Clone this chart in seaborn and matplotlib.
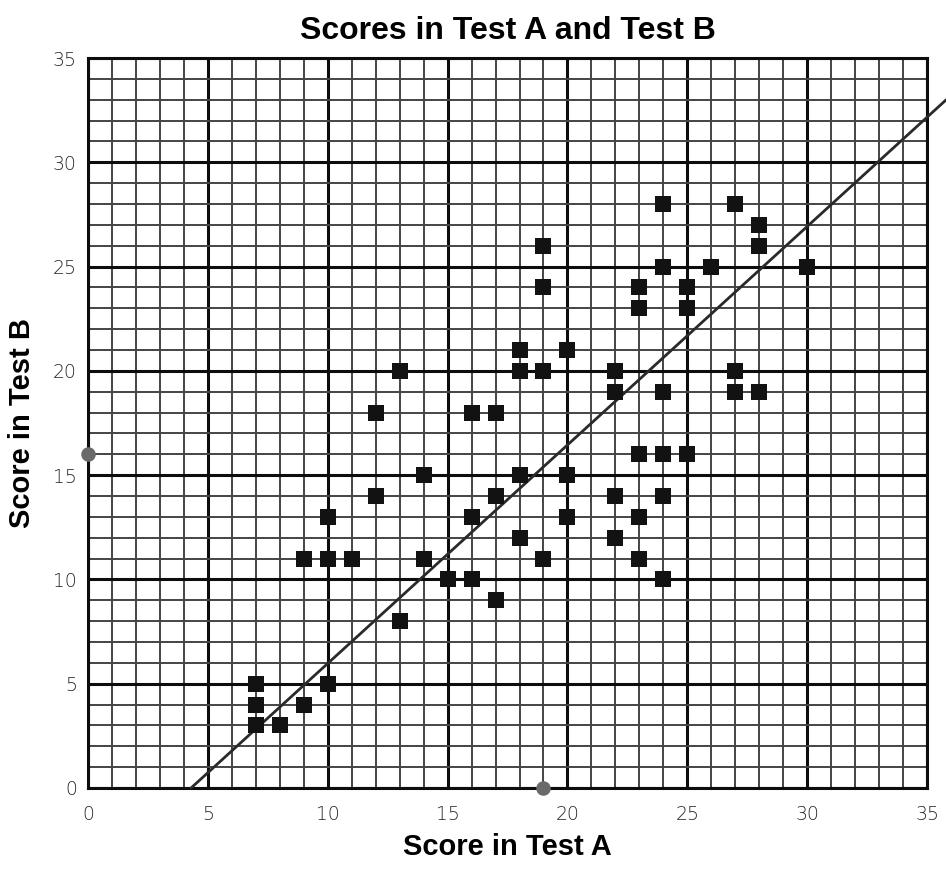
import numpy as np
import pandas as pd
import matplotlib
matplotlib.use('Agg')
import matplotlib.pyplot as plt
import seaborn as sns

# Scores read from the worksheet
test_a = [7, 7, 7, 8, 9, 10, 9, 10, 11, 10, 12, 12, 13, 13, 14, 14, 15, 16, 16, 16,
          17, 17, 17, 18, 18, 18, 18, 19, 19, 19, 19, 20, 20, 20, 22, 22, 22, 22,
          23, 23, 23, 23, 23, 24, 24, 24, 24, 24, 24, 25, 25, 25, 26, 27, 27, 27,
          28, 28, 28, 30]
test_b = [3, 4, 5, 3, 4, 5, 11, 11, 11, 13, 14, 18, 20, 8, 15, 11, 10, 10, 13, 18,
          18, 14, 9, 15, 12, 20, 21, 20, 24, 26, 11, 21, 15, 13, 20, 19, 14, 12,
          24, 23, 16, 13, 11, 28, 25, 19, 16, 14, 10, 24, 23, 16, 25, 28, 20, 19,
          27, 26, 19, 25]

# hand drawn line of best fit (end points)
fit_a = [4.3, 35.8]
fit_b = [0, 33.0]

# pencil marks on the axes
mark_a = [0, 19]
mark_b = [16, 0]

ticks = [0, 5, 10, 15, 20, 25, 30, 35]

df = pd.DataFrame({'Score in Test A': test_a, 'Score in Test B': test_b})
fit = pd.DataFrame({'a': fit_a, 'b': fit_b})

sns.set_style('white')
plt.rcParams['font.family'] = ['Liberation Sans', 'DejaVu Sans']
plt.rcParams['text.color'] = 'black'
plt.rcParams['axes.labelcolor'] = 'black'

fig = plt.figure(figsize=(9.46, 8.71), dpi=100)
ax = fig.add_axes([0.093, 0.0953, 0.887, 0.8381])

ax.set_xlim(0, 35)
ax.set_ylim(0, 35)

# graph paper grid
ax.set_xticks(np.arange(0, 36, 1), minor=True)
ax.set_yticks(np.arange(0, 36, 1), minor=True)
ax.grid(which='minor', color='#444444', linewidth=1.4, zorder=0)
ax.grid(which='major', color='#0d0d0d', linewidth=2.2, zorder=0)
ax.set_axisbelow(True)

for side in ['left', 'bottom', 'top', 'right']:
    ax.spines[side].set_color('#0d0d0d')
    ax.spines[side].set_linewidth(2.2)

sns.lineplot(data=fit, x='a', y='b', ax=ax, color='#2a2a2a', linewidth=2.0,
             clip_on=False, zorder=3)

sns.scatterplot(data=df, x='Score in Test A', y='Score in Test B', ax=ax,
                marker='s', s=135, color='#121212', edgecolor='#121212',
                linewidth=0, zorder=4)

ax.scatter(mark_a, mark_b, s=110, color='#6a6a6a', clip_on=False, zorder=5,
           linewidths=0)

ax.set_xticks(ticks)
ax.set_yticks(ticks)
ax.set_xticklabels([str(t) for t in ticks], fontfamily='DejaVu Sans',
                   fontweight='light', fontsize=13.5, color='#262626')
ax.set_yticklabels([str(t) for t in ticks], fontfamily='DejaVu Sans',
                   fontweight='light', fontsize=13.5, color='#262626')
ax.tick_params(which='major', length=3, width=1, color='#333333', pad=5)
ax.tick_params(which='minor', length=0)
ax.tick_params(axis='x', pad=9)

ax.set_xlabel('Score in Test A', fontsize=21, fontweight='bold', labelpad=7)
ax.set_ylabel('Score in Test B', fontsize=21, fontweight='bold', labelpad=12)
ax.set_title('Scores in Test A and Test B', fontsize=23, fontweight='bold', pad=14)

fig.savefig('out.png', dpi=100)
